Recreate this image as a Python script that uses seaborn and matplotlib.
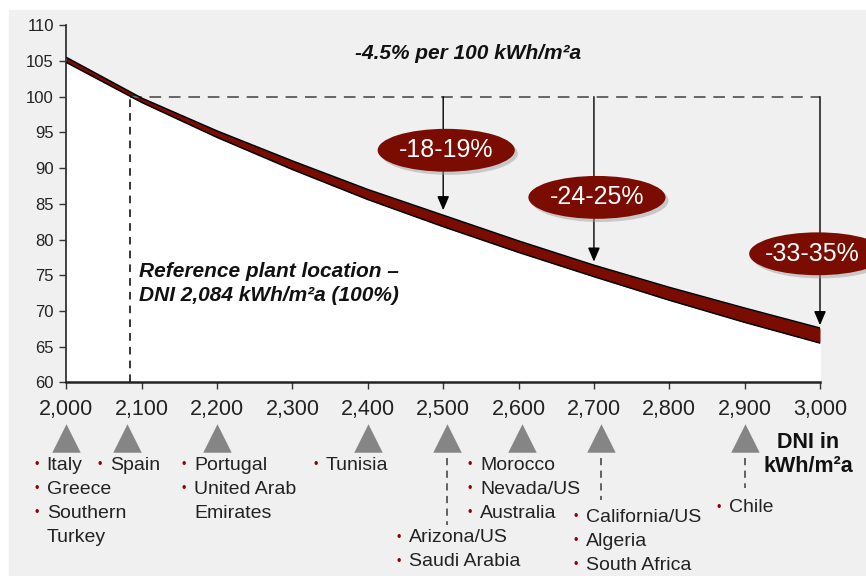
import numpy as np
import pandas as pd
import matplotlib.pyplot as plt
import seaborn as sns
from matplotlib.patches import Ellipse, Rectangle

# DNI (kWh/m2a) vs relative LCOE band (%)
dni = [2000, 2100, 2200, 2300, 2400, 2500, 2600, 2700, 2800, 2900, 3000]
lcoe_upper = [105.5, 99.8, 95.2, 91.0, 87.0, 83.4, 79.8, 76.4, 73.3, 70.4, 67.6]
lcoe_lower = [104.8, 99.2, 94.3, 89.8, 85.6, 81.8, 78.2, 74.8, 71.5, 68.4, 65.5]

ref_dni = 2084
ref_value = 100

# reduction badges
badge_dni = [2500, 2700, 3000]
badge_tip = [84.1, 76.9, 68.0]
badge_labels = ["-18-19%", "-24-25%", "-33-35%"]

# locations along the DNI scale
region_dni = [2000, 2080, 2200, 2400, 2505, 2605, 2710, 2900]
region_labels = [
    ["Italy", "Greece", "Southern\nTurkey"],
    ["Spain"],
    ["Portugal", "United Arab\nEmirates"],
    ["Tunisia"],
    ["Arizona/US", "Saudi Arabia"],
    ["Morocco", "Nevada/US", "Australia"],
    ["California/US", "Algeria", "South Africa"],
    ["Chile"],
]

df = pd.DataFrame({"dni": dni, "upper": lcoe_upper, "lower": lcoe_lower})

sns.set_theme(style="white")
plt.rcParams["font.family"] = ["Liberation Sans", "DejaVu Sans"]

W, H = 866, 576
fig = plt.figure(figsize=(W / 100, H / 100), dpi=100)
fig.patches.append(Rectangle((9 / W, 0), 1, 1 - 10 / H, transform=fig.transFigure,
                             color="#f0f0f0", zorder=-10))

ax_l, ax_r, ax_t, ax_b = 66.4, 820.0, 25.3, 382.3
ax = fig.add_axes([ax_l / W, 1 - ax_b / H, (ax_r - ax_l) / W, (ax_b - ax_t) / H])
ax.set_facecolor("#f0f0f0")

red = "#7a0c02"
dark = "#222222"

# white area under the curve, red band between bounds
ax.fill_between(df["dni"], 60, df["lower"], color="white", zorder=1)
ax.fill_between(df["dni"], df["lower"], df["upper"], color=red, zorder=2, lw=0)
sns.lineplot(data=df, x="dni", y="upper", color="black", lw=1.1, ax=ax, zorder=3)
sns.lineplot(data=df, x="dni", y="lower", color="black", lw=1.1, ax=ax, zorder=3)

# reference lines
ax.plot([ref_dni, 3000], [ref_value, ref_value], color="#666666", lw=1.4,
        dashes=(6, 4), zorder=2)
ax.plot([ref_dni, ref_dni], [60, ref_value], color="black", lw=1.1,
        dashes=(5, 4), zorder=4)

# arrows + badges
badge_pos = [(2504, 92.5), (2704, 85.9), (2997, 78.0)]
for x, tip, lab, (bx, by) in zip(badge_dni, badge_tip, badge_labels, badge_pos):
    ax.annotate("", xy=(x, tip), xytext=(x, ref_value),
                arrowprops=dict(arrowstyle="-|>,head_length=0.7,head_width=0.3",
                                color="black", lw=1.0, shrinkA=0, shrinkB=0),
                zorder=5, annotation_clip=False)
    sh = Ellipse((bx + 4, by - 0.45), 182, 6.0, color="#999999", alpha=0.45,
                 zorder=6, clip_on=False, lw=0)
    el = Ellipse((bx, by), 182, 6.0, color=red, zorder=7, clip_on=False, lw=0)
    ax.add_patch(sh)
    ax.add_patch(el)
    tx = min(bx, 2990)
    ax.text(tx, by, lab, color="white", fontsize=18, ha="center", va="center",
            zorder=8, clip_on=False)

ax.text(2533, 106.1, "-4.5% per 100 kWh/m²a", ha="center", va="center",
        fontsize=15, fontweight="bold", fontstyle="italic", color="#111111")
ax.text(2097, 73.8, "Reference plant location –\nDNI 2,084 kWh/m²a (100%)",
        ha="left", va="center", fontsize=15, fontweight="bold",
        fontstyle="italic", color="#111111", linespacing=1.35, zorder=6)

# axes styling
ax.set_xlim(2000, 3000)
ax.set_ylim(60, 110)
ax.set_xticks(range(2000, 3001, 100))
ax.set_xticklabels([f"{v:,}" for v in range(2000, 3001, 100)])
ax.set_yticks(range(60, 111, 5))
ax.set_xlabel("")
ax.set_ylabel("")
for s in ["top", "right"]:
    ax.spines[s].set_visible(False)
ax.spines["left"].set_color("#333333")
ax.spines["left"].set_linewidth(1.3)
ax.spines["bottom"].set_color("#222222")
ax.spines["bottom"].set_linewidth(1.8)
ax.spines["bottom"].set_zorder(9)
ax.tick_params(axis="y", direction="out", length=5, width=1, color="#333333",
               labelsize=12, labelcolor=dark, pad=4, left=True)
ax.tick_params(axis="x", direction="out", length=5, width=1, color="#333333",
               labelsize=15.5, labelcolor=dark, pad=7, bottom=True)

# markers below the axis
tri_y = (ax_b - 438) / (ax_b - ax_t)
ax.scatter(region_dni, [tri_y] * len(region_dni), transform=ax.get_xaxis_transform(),
           marker="^", s=420, color="#858585", clip_on=False, zorder=5, lw=0)


def fy(py):
    return 1 - py / H


def ay(py):
    return (ax_b - py) / (ax_b - ax_t)


# dashed connectors (region index, end pixel y)
for i, end in [(4, 525), (6, 500), (7, 488)]:
    ax.plot([region_dni[i]] * 2, [ay(458), ay(end)], transform=ax.get_xaxis_transform(),
            color="#555555", lw=1.3, dashes=(4, 3), clip_on=False)

# label layout: bullet x pixel, first line y pixel
label_layout = [(36.7, 465), (100, 465), (184, 465), (316, 465),
                (399, 538), (470, 465), (576, 517), (719, 508)]
step = 24
for items, (bx, y0) in zip(region_labels, label_layout):
    y = y0
    for item in items:
        for j, line in enumerate(item.split("\n")):
            if j == 0:
                fig.text(bx / W, fy(y), "•", color="#8b0000", fontsize=9,
                         ha="center", va="center")
            fig.text((bx + 10) / W, fy(y), line, color=dark, fontsize=14,
                     ha="left", va="center")
            y += step

fig.text(808 / W, fy(442), "DNI in", ha="center", va="center", fontsize=15.5,
         fontweight="bold", color="#111111")
fig.text(808 / W, fy(467), "kWh/m²a", ha="center", va="center", fontsize=15.5,
         fontweight="bold", color="#111111")

fig.savefig("out.png", dpi=100, facecolor="white")
